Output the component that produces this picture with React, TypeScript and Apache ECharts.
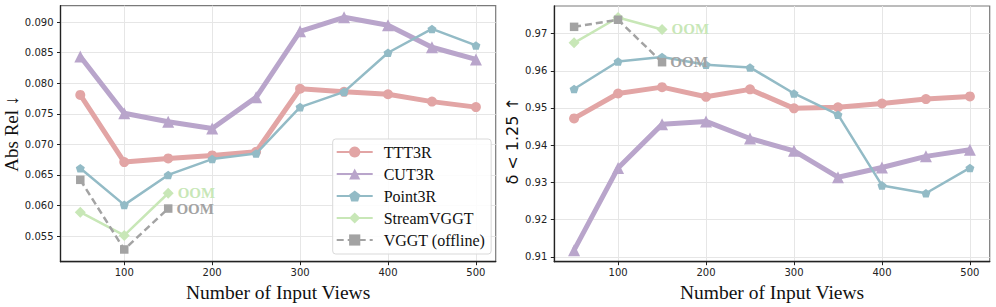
import React, { useEffect, useRef } from "react";
import * as echarts from "echarts";

const views = [50, 100, 150, 200, 250, 300, 350, 400, 450, 500];
const viewsShort = [50, 100, 150];
const xTicks = [100, 200, 300, 400, 500];

// Abs Rel (left)
const absTTT3R = [0.0781, 0.0671, 0.0677, 0.0682, 0.0688, 0.0791, 0.0786, 0.0782, 0.0770, 0.0761];
const absCUT3R = [0.0844, 0.0751, 0.0737, 0.0726, 0.0777, 0.0885, 0.0908, 0.0895, 0.0859, 0.0839];
const absPoint3R = [0.0661, 0.0601, 0.0650, 0.0676, 0.0685, 0.0761, 0.0786, 0.0850, 0.0889, 0.0862];
const absStreamVGGT = [0.0589, 0.0551, 0.0620];
const absVGGT = [0.0642, 0.0528, 0.0595];
const absTicks = [0.055, 0.06, 0.065, 0.07, 0.075, 0.08, 0.085, 0.09];

// delta < 1.25 (right)
const dTTT3R = [0.9472, 0.9539, 0.9556, 0.9530, 0.9550, 0.9499, 0.9502, 0.9512, 0.9524, 0.9531];
const dCUT3R = [0.9118, 0.9339, 0.9456, 0.9464, 0.9418, 0.9385, 0.9314, 0.9340, 0.9370, 0.9388];
const dPoint3R = [0.9551, 0.9625, 0.9637, 0.9616, 0.9609, 0.9539, 0.9482, 0.9292, 0.9271, 0.9339];
const dStreamVGGT = [0.9675, 0.9743, 0.9711];
const dVGGT = [0.9718, 0.9737, 0.9623];
const dTicks = [0.91, 0.92, 0.93, 0.94, 0.95, 0.96, 0.97];

const names = ["TTT3R", "CUT3R", "Point3R", "StreamVGGT", "VGGT (offline)"];
const colors = ["#e2a5a5", "#b9a5cb", "#93bbc6", "#c8e7b7", "#a3a3a3"];

const PENTAGON = "path://M0,-1 L0.951,-0.309 L0.588,0.809 L-0.588,0.809 L-0.951,-0.309 Z";

const serif = "'Liberation Serif', 'Times New Roman', serif";
const sans = "'DejaVu Sans', sans-serif";

function pairs(xs: number[], ys: number[], oom: boolean, color: string) {
  return ys.map((y, i) => {
    if (oom && i === ys.length - 1) {
      return {
        value: [xs[i], y],
        label: {
          show: true,
          formatter: "OOM",
          position: "right",
          distance: 4,
          color,
          fontFamily: serif,
          fontWeight: "bold",
          fontSize: 15,
          lineHeight: 13,
        },
      };
    }
    return { value: [xs[i], y] };
  });
}

export default function App() {
  const ref = useRef<HTMLDivElement>(null);
  useEffect(() => {
    document.body.style.margin = "0";
    const chart = echarts.init(ref.current!, undefined, { renderer: "svg" });
    const series: any[] = [];
    const lineW = [5, 5, 2.5, 2.5, 2.5];
    const syms = ["circle", "triangle", PENTAGON, "diamond", "rect"];
    const symSizes = [10, 12, 9, 11, 8.5];
    const leftData = [absTTT3R, absCUT3R, absPoint3R, absStreamVGGT, absVGGT];
    const rightData = [dTTT3R, dCUT3R, dPoint3R, dStreamVGGT, dVGGT];
    [leftData, rightData].forEach((set, g) => {
      set.forEach((ys, s) => {
        const xs = s >= 3 ? viewsShort : views;
        series.push({
          name: names[s],
          type: "line",
          xAxisIndex: g,
          yAxisIndex: g,
          data: pairs(xs, ys, s >= 3, colors[s]),
          symbol: syms[s],
          symbolSize: symSizes[s],
          symbolKeepAspect: true,
          showAllSymbol: true,
          itemStyle: { color: colors[s], opacity: 1 },
          lineStyle: { color: colors[s], width: lineW[s], type: s === 4 ? [7, 4] : "solid" },
          emphasis: { disabled: true },
          z: 2 + s,
        });
      });
    });

    const xAxisBase = (gi: number) => ({
      type: "value",
      gridIndex: gi,
      min: 27.5,
      max: 522.5,
      minInterval: 100,
      maxInterval: 100,
      name: "Number of Input Views",
      nameLocation: "middle",
      nameGap: 18,
      nameTextStyle: { fontFamily: serif, fontSize: 19.5, color: "#111" },
      axisLine: { show: true, onZero: false, lineStyle: { color: "#222", width: 1.3 } },
      axisTick: { show: true, length: 3.5, lineStyle: { color: "#222", width: 1 }, customValues: xTicks },
      axisLabel: {
        customValues: xTicks,
        margin: 6,
        fontFamily: sans,
        fontSize: 10,
        color: "#222",
      },
      splitLine: { show: true, lineStyle: { color: "#e6e6e6", width: 1 } },
    });

    const yAxisBase = (gi: number, min: number, max: number, iv: number, ticks: number[], dec: number, name: string, nameStyle: any, gap: number) => ({
      type: "value",
      gridIndex: gi,
      min,
      max,
      minInterval: iv,
      maxInterval: iv,
      name,
      nameLocation: "middle",
      nameGap: gap,
      nameTextStyle: nameStyle,
      axisLine: { show: true, lineStyle: { color: "#222", width: 1.3 } },
      axisTick: { show: true, length: 3.5, lineStyle: { color: "#222", width: 1 }, customValues: ticks },
      axisLabel: {
        customValues: ticks,
        margin: 7,
        fontFamily: sans,
        fontSize: 10,
        color: "#222",
        formatter: (v: number) => v.toFixed(dec),
      },
      splitLine: { show: true, lineStyle: { color: "#e6e6e6", width: 1 } },
    });

    chart.setOption({
      animation: false,
      backgroundColor: "#fff",
      grid: [
        { left: 60.5, top: 5.7, width: 435.2, height: 256, show: true, borderColor: "#7a7a7a", borderWidth: 1.2, backgroundColor: "transparent", containLabel: false, outerBoundsMode: "none" },
        { left: 554.3, top: 6, width: 435.4, height: 255.7, show: true, borderColor: "#7a7a7a", borderWidth: 1.2, backgroundColor: "transparent", containLabel: false, outerBoundsMode: "none" },
      ],
      xAxis: [xAxisBase(0), xAxisBase(1)],
      yAxis: [
        yAxisBase(0, 0.0508, 0.0927, 0.005, absTicks, 3, "Abs Rel ↓", { fontFamily: serif, fontSize: 19, color: "#111" }, 36),
        yAxisBase(1, 0.9087, 0.9774, 0.01, dTicks, 2, "δ < 1.25 ↑", { fontFamily: sans, fontSize: 16, color: "#111", padding: [0, 14, 0, 0] }, 34),
      ],
      legend: {
        show: true,
        orient: "vertical",
        left: 332.7,
        top: 139,
        data: names,
        itemWidth: 36,
        itemHeight: 14,
        itemGap: 4,
        padding: [4, 6, 5, 3],
        backgroundColor: "rgba(255,255,255,0.85)",
        borderColor: "#d9d9d9",
        borderWidth: 1,
        borderRadius: 3,
        selectedMode: false,
        textStyle: { fontFamily: serif, fontSize: 16, lineHeight: 18, color: "#111", padding: [0, 0, 0, 6] },
      },
      series,
    });
    return () => chart.dispose();
  }, []);
  return <div ref={ref} style={{ width: 996, height: 307 }} />;
}
